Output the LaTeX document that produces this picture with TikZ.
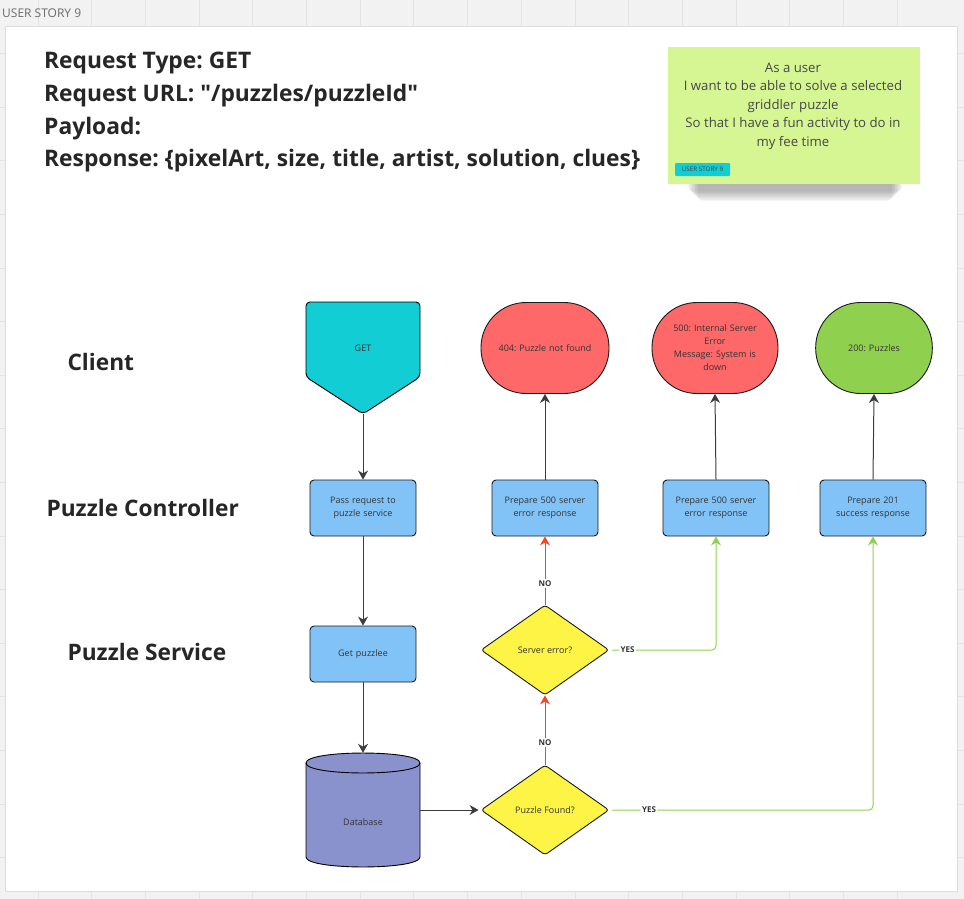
\documentclass[tikz,border=0pt]{standalone}
\usepackage{fontspec}
\setmainfont{Open Sans}[Ligatures=TeXOff]
\usetikzlibrary{shapes.geometric,arrows.meta}
\definecolor{bgc}{HTML}{F2F2F2}
\definecolor{gridc}{HTML}{E3E3E3}
\definecolor{cardb}{HTML}{DDDDDD}
\definecolor{stroke}{HTML}{1A1A1A}
\definecolor{txt}{HTML}{333333}
\definecolor{cyanc}{HTML}{12CDD4}
\definecolor{redc}{HTML}{FF6868}
\definecolor{greenc}{HTML}{8FD14F}
\definecolor{bluec}{HTML}{82C3F7}
\definecolor{yellowc}{HTML}{FEF445}
\definecolor{dbc}{HTML}{8A92CE}
\definecolor{stickyc}{HTML}{D5F692}
\definecolor{redline}{HTML}{F24726}
\definecolor{greenline}{HTML}{8FD14F}
\frenchspacing
\tikzset{
  nodetext/.style={font=\fontsize{9}{13}\selectfont, text=txt, align=center},
  bluebox/.style={nodetext, draw=stroke, line width=0.9pt, fill=bluec, rounded corners=4pt, minimum width=106pt, minimum height=56pt, text width=96pt},
  endnode/.style={nodetext, draw=stroke, line width=0.9pt, rounded corners=45pt, minimum width=128pt, minimum height=91pt, text width=110pt},
  decision/.style={nodetext, diamond, aspect=1.42, draw=stroke, line width=0.9pt, fill=yellowc, rounded corners=3pt, minimum width=128pt, minimum height=90pt, inner sep=0pt},
  flow/.style={draw=stroke!85, line width=1pt, -{Stealth[length=9pt,width=10pt]}},
  noflow/.style={draw=redline, line width=1pt, -{Stealth[length=9pt,width=10pt]}},
  yesflow/.style={draw=greenline, line width=1pt, rounded corners=4pt, -{Stealth[length=9pt,width=10pt]}},
  lbl/.style={font=\bfseries\fontsize{8}{9}\selectfont, text=txt, fill=white, inner sep=1.5pt},
  lane/.style={font=\bfseries\fontsize{22.7}{26}\selectfont, text=black!85, anchor=west},
}
\begin{document}
\begin{tikzpicture}[x=1pt,y=-1pt]
\useasboundingbox (0,0) rectangle (964,899);
% background grid
\fill[bgc] (0,0) rectangle (964,899);
\foreach \i in {0,...,17} {\draw[gridc, line width=1pt] ({38+53.7*\i-53.7},0) -- ({38+53.7*\i-53.7},899);}
\foreach \j in {0,...,16} {\draw[gridc, line width=1pt] (0,{53.6*\j}) -- (964,{53.6*\j});}
\node[anchor=west, font=\fontsize{12}{14}\selectfont, text=black!58, inner sep=0pt] (board) at (2,13) {USER STORY 9};
% card
\draw[cardb, fill=white, line width=1pt] (5,27) rectangle (957,891);
% header
\node[anchor=north west, align=left, font=\bfseries\fontsize{22.8}{32.7}\selectfont, text=black!85, inner sep=0pt] (hdr) at (44,52)
 {Request Type: GET\\Request URL: "/puzzles/puzzleId"\\Payload:\\Response: \{pixelArt, size, title, artist, solution, clues\}};
% sticky shadow
\foreach \k in {1,...,8} {\fill[black, opacity=0.04, rounded corners=6pt] ({686+\k*1.5},{172+\k*0.3}) rectangle ({904-\k*1.5},{190+\k*1.4});}
\node[fill=stickyc, minimum width=252pt, minimum height=137pt, inner sep=0pt] (sticky) at (794,115.5) {};
\node[font=\fontsize{13.2}{18.5}\selectfont, text=black!72, align=center] (story) at (793,106)
 {As a user\\I want to be able to solve a selected\\griddler puzzle\\So that I have a fun activity to do in\\my fee time};
\node[fill=cyanc, rounded corners=1pt, font=\fontsize{6.3}{7}\selectfont, text=black!75, minimum width=55pt, minimum height=13pt, inner sep=1pt] (tag) at (702.5,169.5) {USER STORY 9};
% lane labels
\node[lane] (lclient) at (64,362) {Client};
\node[lane] (lctrl) at (43,508) {Puzzle Controller};
\node[lane] (lsvc) at (64,652) {Puzzle Service};
% GET pentagon
\node[nodetext, minimum width=114pt, minimum height=112pt, inner sep=0pt] (get) at (363,358) {};
\draw[stroke, line width=0.9pt, fill=cyanc, rounded corners=4pt] (306,302) -- (420,302) -- (420,377) -- (363,414) -- (306,377) -- cycle;
\node[nodetext] at (363,348) {GET};
% end nodes
\node[endnode, fill=redc] (e404) at (545,348) {404: Puzzle not found};
\node[endnode, fill=redc, minimum width=126pt] (e500) at (715,348) {500: Internal Server\\Error\\Message: System is\\down};
\node[endnode, fill=greenc, minimum width=116pt] (e200) at (874,348) {200: Puzzles};
% controller row
\node[bluebox] (pass) at (363,508) {Pass request to\\puzzle service};
\node[bluebox] (p500a) at (545,508) {Prepare 500 server\\error response};
\node[bluebox] (p500b) at (716,508) {Prepare 500 server\\error response};
\node[bluebox] (p201) at (873,508) {Prepare 201\\success response};
% service row
\node[bluebox] (getp) at (363,654) {Get puzzlee};
\node[decision] (serr) at (545,650) {Server error?};
\node[decision] (found) at (545,810) {Puzzle Found?};
% database
\node[nodetext, minimum width=114pt, minimum height=114pt, inner sep=0pt] (db) at (363,810) {};
\draw[stroke, line width=0.9pt, fill=dbc] (306,763) -- (306,857) .. controls (306,870.3) and (420,870.3) .. (420,857) -- (420,763) .. controls (420,749.7) and (306,749.7) .. (306,763) -- cycle;
\draw[stroke, line width=0.9pt] (306,763) .. controls (306,776.3) and (420,776.3) .. (420,763);
\node[nodetext] at (363,822) {Database};
% connectors
\draw[flow] (get.south) -- (pass.north);
\draw[flow] (pass.south) -- (getp.north);
\draw[flow] (getp.south) -- (db.north);
\draw[flow] (db.east) -- ([xshift=-2pt]found.west);
\draw[noflow] (found.north) -- node[lbl, pos=0.32]{NO} (serr.south);
\draw[noflow] (serr.north) -- node[lbl, pos=0.31]{NO} (p500a.south);
\draw[yesflow, shorten <=3pt] (serr.east) -| node[lbl, pos=0.085]{YES} (p500b.south);
\draw[yesflow, shorten <=3pt] (found.east) -| node[lbl, pos=0.075]{YES} (p201.south);
\draw[flow] (p500a.north) -- (e404.south);
\draw[flow] (p500b.north) -- (e500.south);
\draw[flow] (p201.north) -- (e200.south);
\end{tikzpicture}
\end{document}
